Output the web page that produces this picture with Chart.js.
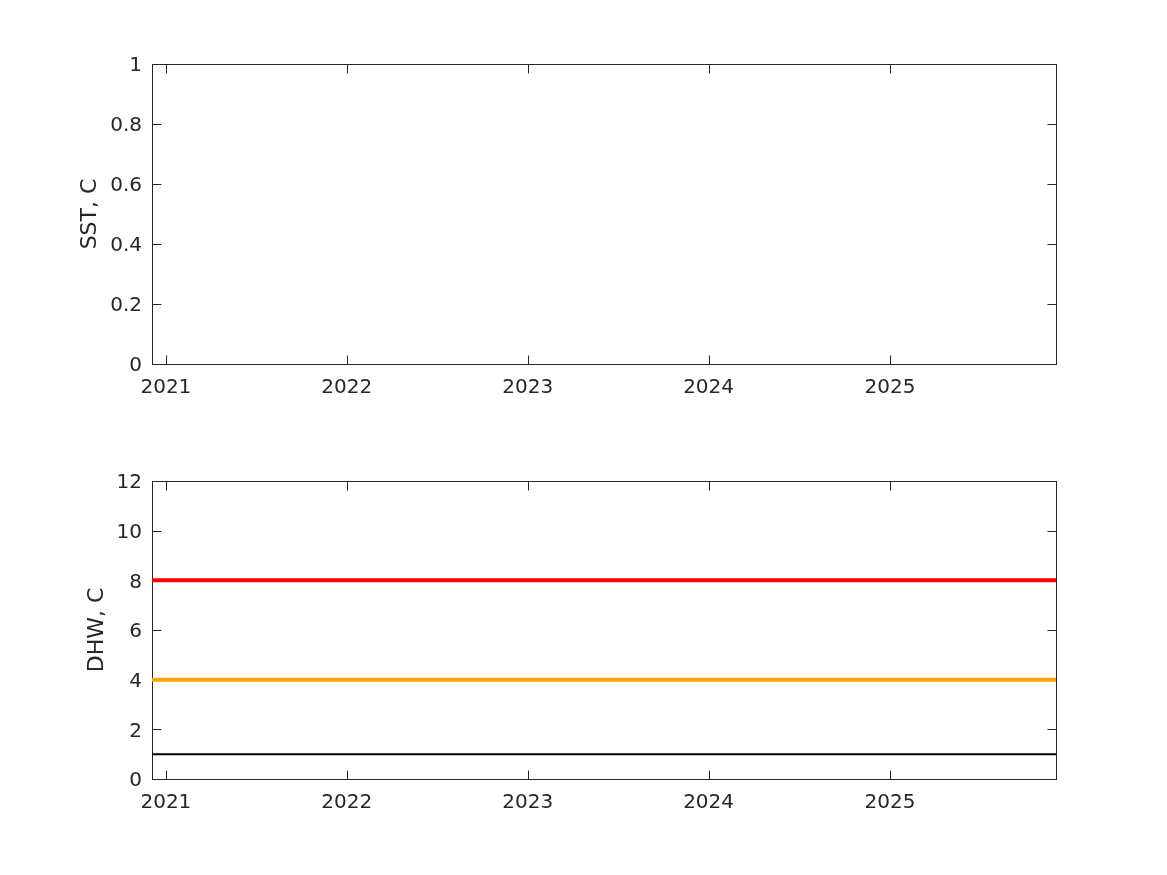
<!DOCTYPE html>
<html>
<head>
<meta charset="utf-8">
<script src="https://cdn.jsdelivr.net/npm/chart.js@4/dist/chart.umd.min.js"></script>
<style>
  html, body { margin: 0; padding: 0; background: #fff; }
  .wrap { position: absolute; left: 0; top: 0; width: 1167px; height: 875px; }
</style>
</head>
<body>
<div class="wrap"><canvas id="sst"></canvas></div>
<div class="wrap"><canvas id="dhw"></canvas></div>
<script>
// ---- data ----
const xRange = ['2020-12-04', '2025-12-02'];          // axis limits (dates)
const yearTicks = [2021, 2022, 2023, 2024, 2025];     // x tick labels
const sstTicks = [0, 0.2, 0.4, 0.6, 0.8, 1];          // SST y ticks
const dhwTicks = [0, 2, 4, 6, 8, 10, 12];             // DHW y ticks
const sstValues = [];                                  // SST series (empty)
const dhwLineDates = ['2020-12-04', '2025-12-02'];
const dhwLevel8 = [8, 8];                              // red threshold
const dhwLevel4 = [4, 4];                              // orange threshold
const dhwLevel1 = [1, 1];                              // black threshold

const toMs = s => Date.parse(s + 'T00:00:00Z');
const xMin = toMs(xRange[0]), xMax = toMs(xRange[1]);
const yearMs = yearTicks.map(y => Date.UTC(y, 0, 1));
const pts = (dates, vals) => dates.map((d, i) => ({ x: toMs(d), y: vals[i] }));

const AX = '#262626';
const FONT = { family: 'DejaVu Sans', size: 20 };
const TITLE_FONT = { family: 'DejaVu Sans', size: 22 };

const boxPlugin = {
  id: 'matlabBox',
  beforeDatasetsDraw(chart) {
    const { ctx, chartArea: a, scales } = chart;
    const L = Math.round(a.left) + 0.5, R = Math.round(a.right) + 0.5;
    const T = Math.round(a.top) + 0.5, B = Math.round(a.bottom) + 0.5;
    ctx.save();
    ctx.strokeStyle = AX;
    ctx.lineWidth = 1;
    ctx.strokeRect(L, T, R - L, B - T);
    const tl = 9;
    ctx.beginPath();
    scales.x.ticks.forEach(t => {
      const px = Math.round(scales.x.getPixelForValue(t.value)) + 0.5;
      if (px <= L + 1 || px >= R - 1) return;
      ctx.moveTo(px, B); ctx.lineTo(px, B - tl);
      ctx.moveTo(px, T); ctx.lineTo(px, T + tl);
    });
    scales.y.ticks.forEach(t => {
      const py = Math.round(scales.y.getPixelForValue(t.value)) + 0.5;
      if (py <= T + 1 || py >= B - 1) return;
      ctx.moveTo(L, py); ctx.lineTo(L + tl, py);
      ctx.moveTo(R, py); ctx.lineTo(R - tl, py);
    });
    ctx.stroke();
    ctx.restore();
  }
};

function makeChart(id, datasets, yTicks, yTitle, top, bottom, titlePad) {
  const yMin = yTicks[0], yMax = yTicks[yTicks.length - 1];
  return new Chart(document.getElementById(id), {
    type: 'line',
    data: { datasets },
    options: {
      responsive: true,
      maintainAspectRatio: false,
      animation: false,
      events: [],
      layout: { padding: { left: 0, right: 1167 - 1056, top: top, bottom: 875 - bottom - 50 } },
      plugins: { legend: { display: false }, tooltip: { enabled: false } },
      elements: { point: { radius: 0 } },
      scales: {
        x: {
          type: 'linear',
          min: xMin, max: xMax,
          afterFit: s => { s.height = 50; },
          afterBuildTicks: s => { s.ticks = yearMs.map(v => ({ value: v })); },
          grid: { display: false, drawTicks: false },
          border: { display: false },
          ticks: {
            color: AX, font: FONT, padding: 12, maxRotation: 0, autoSkip: false,
            callback: v => String(yearTicks[yearMs.indexOf(v)])
          }
        },
        y: {
          type: 'linear',
          min: yMin, max: yMax,
          afterFit: s => { s.width = 152; },
          afterBuildTicks: s => { s.ticks = yTicks.map(v => ({ value: v })); },
          grid: { display: false, drawTicks: false },
          border: { display: false },
          ticks: { color: AX, font: FONT, padding: 10, labelOffset: 2, callback: v => String(v) },
          title: { display: true, text: yTitle, color: AX, font: TITLE_FONT, padding: { top: titlePad, bottom: 0 } }
        }
      }
    },
    plugins: [boxPlugin]
  });
}

makeChart('sst', [
  { data: sstValues, borderColor: '#0072BD', borderWidth: 2 }
], sstTicks, 'SST, C', 64, 364, 77);

makeChart('dhw', [
  { data: pts(dhwLineDates, dhwLevel1), borderColor: '#000000', borderWidth: 2 },
  { data: pts(dhwLineDates, dhwLevel4), borderColor: '#FFA500', borderWidth: 4 },
  { data: pts(dhwLineDates, dhwLevel8), borderColor: '#FF0000', borderWidth: 4 }
], dhwTicks, 'DHW, C', 481, 779, 84);
</script>
</body>
</html>
